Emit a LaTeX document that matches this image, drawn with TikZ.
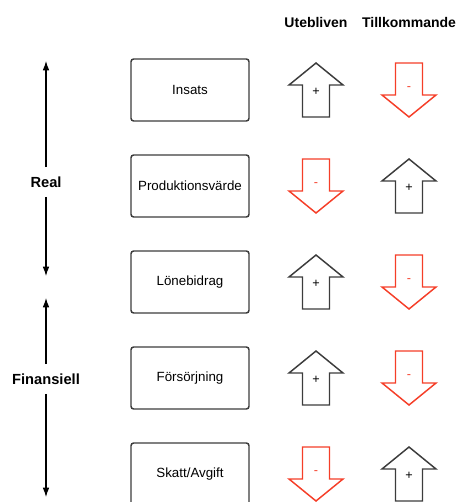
\documentclass[tikz,border=0pt]{standalone}
\usepackage{fontspec}
\setmainfont{Liberation Sans}
\usepackage{tikz}
\usetikzlibrary{arrows.meta}

\definecolor{minusred}{RGB}{245,62,40}
\definecolor{edgegray}{RGB}{60,60,60}

\begin{document}
\begin{tikzpicture}[x=0.75pt,y=0.75pt,yscale=-1,xscale=1,
  box/.style={draw=edgegray,line width=1.1pt,rounded corners=2pt,minimum width=88.5pt,minimum height=46.5pt,font=\fontsize{10}{12}\selectfont},
  head/.style={font=\fontsize{10.5}{12}\selectfont\bfseries},
  lbl/.style={font=\fontsize{11}{13}\selectfont\bfseries,minimum height=22pt,inner sep=0pt},
  plusarr/.style={draw=edgegray,line width=1.1pt,line join=miter},
  minusarr/.style={draw=minusred,line width=1.1pt,line join=miter},
  sign/.style={font=\fontsize{9.5}{10}\selectfont,inner sep=0pt},
  axis/.style={line width=0.8pt,-{Latex[length=7pt,width=5pt]}}]
\useasboundingbox (0,0) rectangle (458,502);

% Text Node
\node (ute) [head] at (316,22) {Utebliven};
% Text Node
\node (till) [head] at (409,22) {Tillkommande};

% Boxes
\node (insats) [box] at (190,90) {Insats};
\node (prod) [box] at (190,186) {Produktionsvärde};
\node (lone) [box] at (190,282) {Lönebidrag};
\node (forsorj) [box] at (190,378) {Försörjning};
\node (skatt) [box] at (190,474) {Skatt/Avgift};

% Left labels and arrows
\node (real) [lbl] at (46,182) {Real};
\node (fin) [lbl] at (46,379) {Finansiell};
\coordinate (realtop) at (46,61);
\coordinate (realbot) at (46,276);
\coordinate (fintop) at (46,298);
\coordinate (finbot) at (46,497);
\draw [axis] (real) -- (realtop);
\draw [axis] (real) -- (realbot);
\draw [axis] (fin) -- (fintop);
\draw [axis] (fin) -- (finbot);

%Shape: Up Arrow (Insats, Utebliven)
\draw [plusarr] (302.5,117) -- (302.5,85) -- (289,85) -- (316,63) -- (343,85) -- (329.5,85) -- (329.5,117) -- cycle ;
\node (s11) [sign] at (316,92) {+};
%Shape: Down Arrow (Insats, Tillkommande)
\draw [minusarr] (395.5,63) -- (395.5,95) -- (382,95) -- (409,117) -- (436,95) -- (422.5,95) -- (422.5,63) -- cycle ;
\node (s12) [sign,text=minusred] at (409,89) {-};

%Shape: Down Arrow (Produktionsvärde, Utebliven)
\draw [minusarr] (302.5,159) -- (302.5,191) -- (289,191) -- (316,213) -- (343,191) -- (329.5,191) -- (329.5,159) -- cycle ;
\node (s21) [sign,text=minusred] at (316,185) {-};
%Shape: Up Arrow (Produktionsvärde, Tillkommande)
\draw [plusarr] (395.5,213) -- (395.5,181) -- (382,181) -- (409,159) -- (436,181) -- (422.5,181) -- (422.5,213) -- cycle ;
\node (s22) [sign] at (409,188) {+};

%Shape: Up Arrow (Lönebidrag, Utebliven)
\draw [plusarr] (302.5,309) -- (302.5,277) -- (289,277) -- (316,255) -- (343,277) -- (329.5,277) -- (329.5,309) -- cycle ;
\node (s31) [sign] at (316,284) {+};
%Shape: Down Arrow (Lönebidrag, Tillkommande)
\draw [minusarr] (395.5,255) -- (395.5,287) -- (382,287) -- (409,309) -- (436,287) -- (422.5,287) -- (422.5,255) -- cycle ;
\node (s32) [sign,text=minusred] at (409,281) {-};

%Shape: Up Arrow (Försörjning, Utebliven)
\draw [plusarr] (302.5,405) -- (302.5,373) -- (289,373) -- (316,351) -- (343,373) -- (329.5,373) -- (329.5,405) -- cycle ;
\node (s41) [sign] at (316,380) {+};
%Shape: Down Arrow (Försörjning, Tillkommande)
\draw [minusarr] (395.5,351) -- (395.5,383) -- (382,383) -- (409,405) -- (436,383) -- (422.5,383) -- (422.5,351) -- cycle ;
\node (s42) [sign,text=minusred] at (409,377) {-};

%Shape: Down Arrow (Skatt/Avgift, Utebliven)
\draw [minusarr] (302.5,447) -- (302.5,479) -- (289,479) -- (316,501) -- (343,479) -- (329.5,479) -- (329.5,447) -- cycle ;
\node (s51) [sign,text=minusred] at (316,473) {-};
%Shape: Up Arrow (Skatt/Avgift, Tillkommande)
\draw [plusarr] (395.5,501) -- (395.5,469) -- (382,469) -- (409,447) -- (436,469) -- (422.5,469) -- (422.5,501) -- cycle ;
\node (s52) [sign] at (409,476) {+};

\end{tikzpicture}
\end{document}
